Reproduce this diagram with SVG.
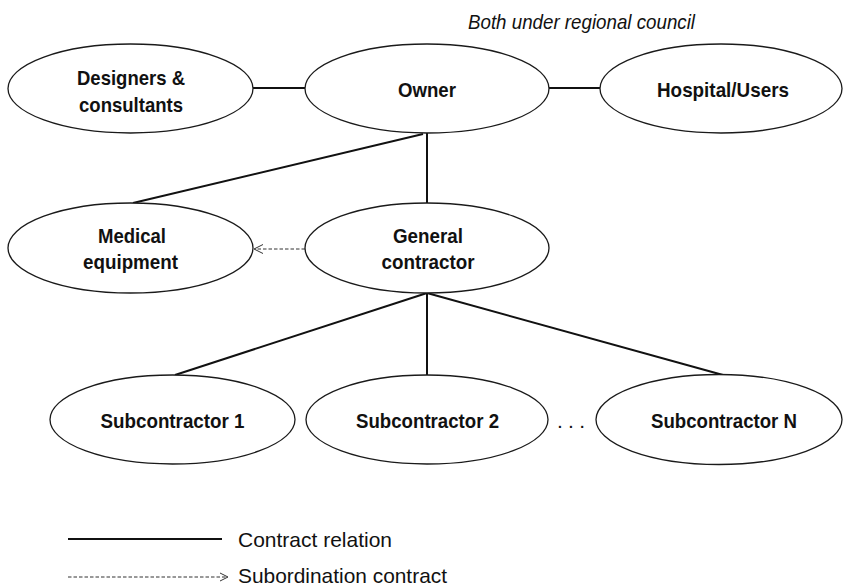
<svg xmlns="http://www.w3.org/2000/svg" width="844" height="587" viewBox="0 0 844 587">
  <style>
    .node ellipse { fill: #ffffff; stroke: #1a1a1a; stroke-width: 1.3; }
    .node text { font-family: "Liberation Sans", Arial, sans-serif; font-weight: bold; font-size: 21px; fill: #111; text-anchor: middle; }
    .contract { stroke: #111; stroke-width: 2; fill: none; }
    .sub { stroke: #333; stroke-width: 1; stroke-dasharray: 3.5 2; fill: none; }
    .head { stroke: #333; stroke-width: 1; fill: none; }
    .legend { font-family: "Liberation Sans", Arial, sans-serif; font-size: 21px; fill: #111; }
    .note { font-family: "Liberation Sans", Arial, sans-serif; font-style: italic; font-size: 21px; fill: #111; }
  </style>

  <rect width="844" height="587" fill="#ffffff"/>

  <text class="note" x="468" y="29" textLength="227" lengthAdjust="spacingAndGlyphs">Both under regional council</text>

  <!-- connectors -->
  <g id="connectors">
    <line class="contract" x1="253" y1="88" x2="305" y2="88"/>
    <line class="contract" x1="549" y1="88" x2="600" y2="88"/>
    <line class="contract" x1="427" y1="133" x2="427" y2="203"/>
    <line class="contract" x1="423" y1="134" x2="133" y2="203"/>
    <line class="contract" x1="427" y1="293" x2="175" y2="375"/>
    <line class="contract" x1="427" y1="293" x2="427" y2="375"/>
    <line class="contract" x1="427" y1="293" x2="723" y2="375"/>
    <line class="sub" x1="305" y1="249" x2="255" y2="249"/>
    <polyline class="head" points="263,244.5 254,249 263,253.5"/>
  </g>

  <g id="designers" class="node">
    <ellipse cx="130.5" cy="88.5" rx="122.5" ry="44.5"/>
    <text x="131" y="85" textLength="108" lengthAdjust="spacingAndGlyphs">Designers &amp;</text>
    <text x="131" y="112" textLength="104" lengthAdjust="spacingAndGlyphs">consultants</text>
  </g>

  <g id="owner" class="node">
    <ellipse cx="427" cy="88.5" rx="122" ry="44.5"/>
    <text x="427" y="97" textLength="58" lengthAdjust="spacingAndGlyphs">Owner</text>
  </g>

  <g id="hospital" class="node">
    <ellipse cx="721" cy="88.5" rx="121" ry="44.5"/>
    <text x="723" y="97" textLength="132" lengthAdjust="spacingAndGlyphs">Hospital/Users</text>
  </g>

  <g id="medical" class="node">
    <ellipse cx="130.5" cy="248" rx="122.5" ry="45"/>
    <text x="132" y="243" textLength="68" lengthAdjust="spacingAndGlyphs">Medical</text>
    <text x="130.5" y="269" textLength="95" lengthAdjust="spacingAndGlyphs">equipment</text>
  </g>

  <g id="general" class="node">
    <ellipse cx="427" cy="248" rx="122" ry="45"/>
    <text x="428" y="243" textLength="70" lengthAdjust="spacingAndGlyphs">General</text>
    <text x="428" y="269" textLength="93" lengthAdjust="spacingAndGlyphs">contractor</text>
  </g>

  <g id="sub1" class="node">
    <ellipse cx="172.5" cy="419.5" rx="122.5" ry="44.5"/>
    <text x="172.5" y="428" textLength="144" lengthAdjust="spacingAndGlyphs">Subcontractor 1</text>
  </g>

  <g id="sub2" class="node">
    <ellipse cx="427" cy="419.5" rx="121" ry="44.5"/>
    <text x="427.5" y="428" textLength="143" lengthAdjust="spacingAndGlyphs">Subcontractor 2</text>
  </g>

  <g id="subN" class="node">
    <ellipse cx="719" cy="419.5" rx="123" ry="45"/>
    <text x="724" y="428" textLength="146" lengthAdjust="spacingAndGlyphs">Subcontractor N</text>
  </g>

  <text class="legend" x="557" y="428" textLength="28" lengthAdjust="spacing">. . .</text>

  <!-- legend -->
  <g id="legend">
    <line class="contract" x1="68" y1="539" x2="222" y2="539"/>
    <text class="legend" x="238" y="547" textLength="154" lengthAdjust="spacingAndGlyphs">Contract relation</text>
    <line class="sub" x1="68" y1="577" x2="227" y2="577"/>
    <polyline class="head" points="220,573 228,577 220,581"/>
    <text class="legend" x="238" y="583" textLength="209" lengthAdjust="spacingAndGlyphs">Subordination contract</text>
  </g>
</svg>
